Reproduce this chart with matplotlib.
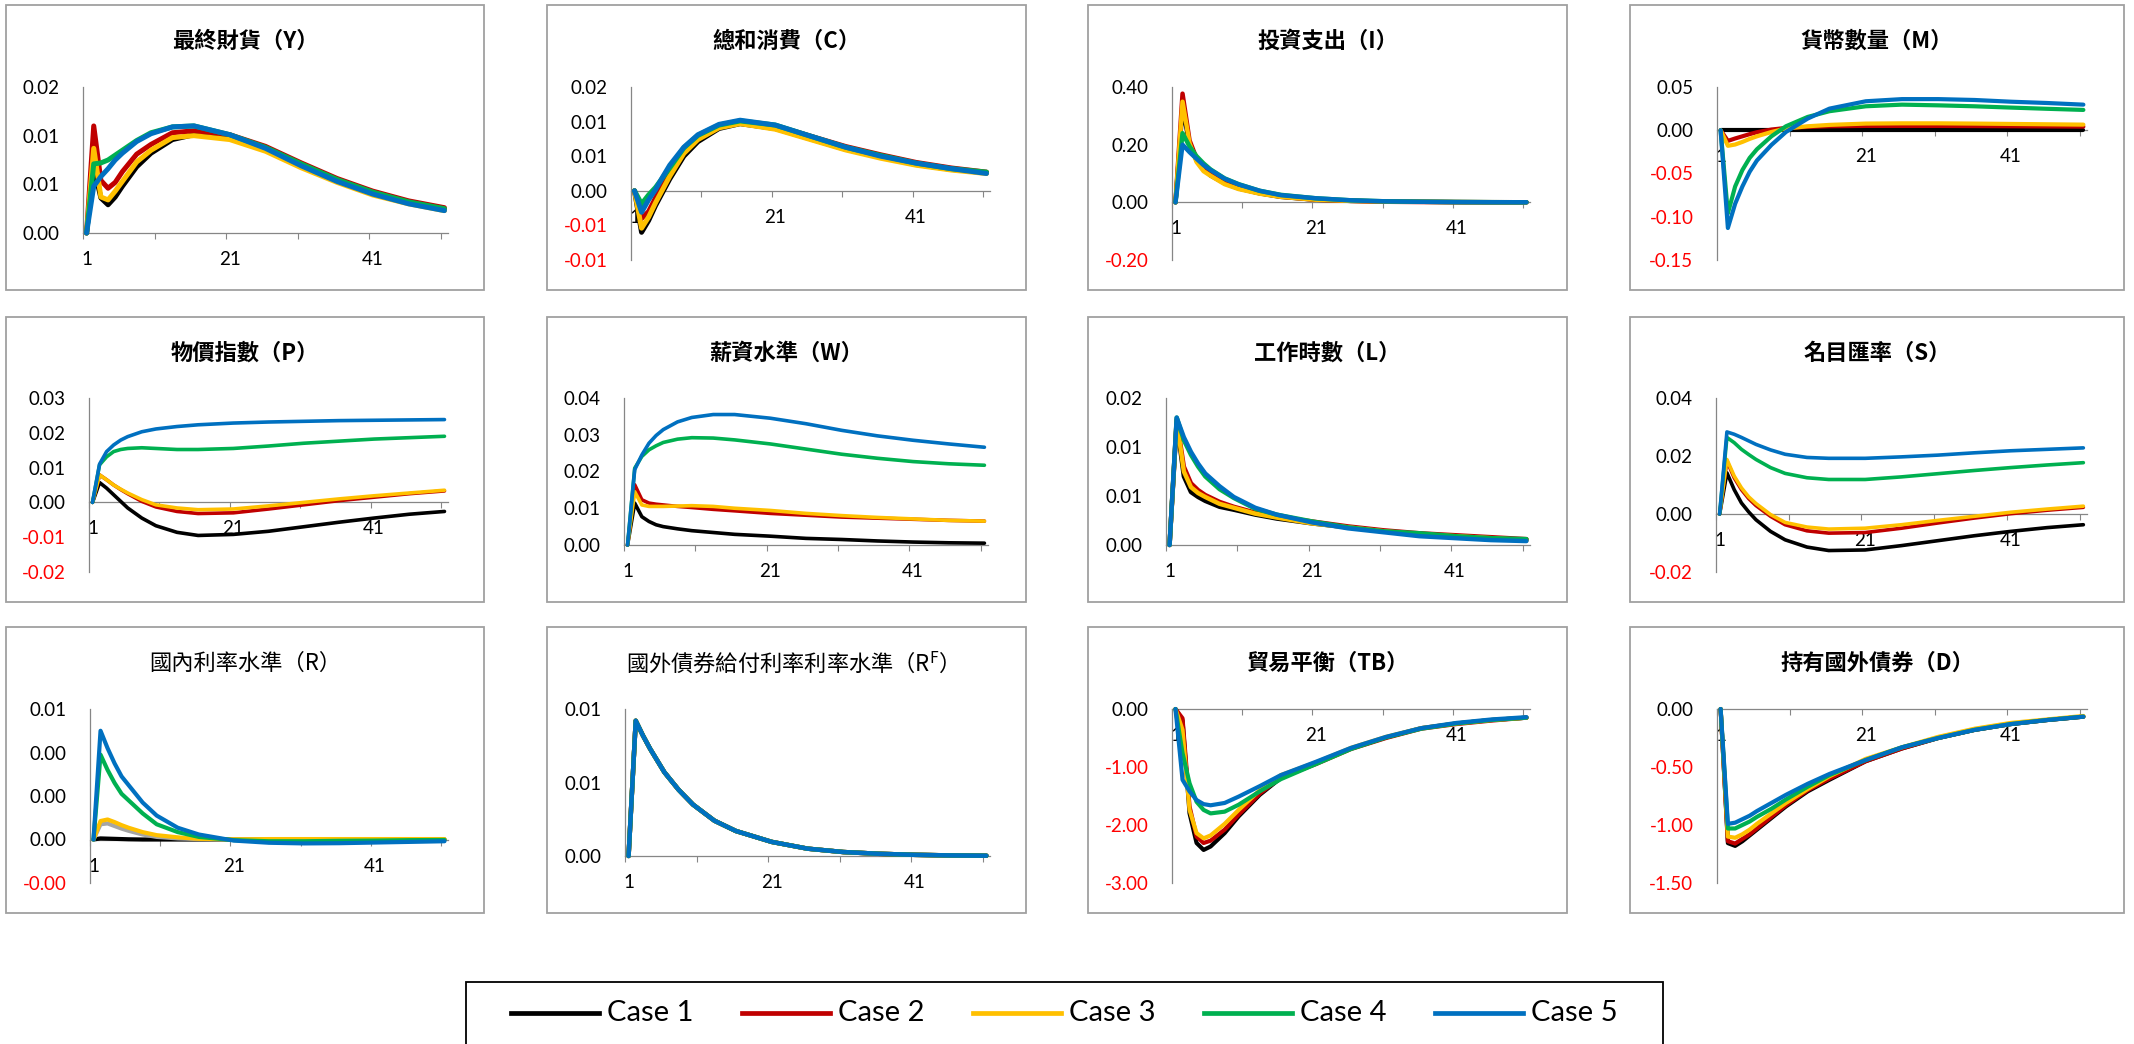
import numpy as np
import matplotlib
matplotlib.use("Agg")
import matplotlib.pyplot as plt
from matplotlib.patches import Rectangle
from matplotlib.lines import Line2D
from decimal import Decimal, ROUND_HALF_UP

plt.rcParams['font.family'] = ['Lato', 'Noto Sans CJK TC', 'DejaVu Sans']
plt.rcParams['mathtext.fontset'] = 'custom'
plt.rcParams['mathtext.rm'] = 'Noto Sans CJK TC'
plt.rcParams['mathtext.bf'] = 'Noto Sans CJK TC:bold'

W, H = 2134, 1044
fig = plt.figure(figsize=(W / 100, H / 100), dpi=100)

# impulse responses, 51 periods, read at these periods
periods = [1, 2, 3, 4, 5, 6, 8, 10, 13, 16, 21, 26, 31, 36, 41, 46, 51]
cases = ['Case 1', 'Case 2', 'Case 3', 'Case 4', 'Case 5']
case_colors = ['#000000', '#C00000', '#FFC000', '#00B050', '#0070C0']

# 最終財貨 Y
resp_Y = [
    [0, 0.0068, 0.0036, 0.0029, 0.0037, 0.0048, 0.0068, 0.0082, 0.0096, 0.0101, 0.0098, 0.0086, 0.0069, 0.0053, 0.0040, 0.0031, 0.0024],
    [0, 0.0110, 0.0054, 0.0046, 0.0052, 0.0063, 0.0081, 0.0091, 0.0103, 0.0105, 0.0101, 0.0089, 0.0072, 0.0056, 0.0043, 0.0033, 0.0026],
    [0, 0.0087, 0.0037, 0.0034, 0.0043, 0.0053, 0.0073, 0.0085, 0.0098, 0.0100, 0.0096, 0.0084, 0.0067, 0.0052, 0.0039, 0.0030, 0.0023],
    [0, 0.0071, 0.0072, 0.0075, 0.0080, 0.0085, 0.0095, 0.0103, 0.0109, 0.0110, 0.0101, 0.0088, 0.0071, 0.0055, 0.0042, 0.0032, 0.0025],
    [0, 0.0048, 0.0058, 0.0066, 0.0075, 0.0082, 0.0094, 0.0102, 0.0109, 0.0110, 0.0101, 0.0087, 0.0069, 0.0053, 0.0040, 0.0030, 0.0023],
]
# 總和消費 C
resp_C = [
    [0, -0.0060, -0.0043, -0.0021, -0.0002, 0.0017, 0.0050, 0.0071, 0.0090, 0.0097, 0.0090, 0.0075, 0.0060, 0.0049, 0.0038, 0.0031, 0.0026],
    [0, -0.0040, -0.0030, -0.0010, 0.0008, 0.0026, 0.0057, 0.0076, 0.0094, 0.0099, 0.0094, 0.0079, 0.0064, 0.0052, 0.0041, 0.0033, 0.0027],
    [0, -0.0054, -0.0038, -0.0017, 0.0002, 0.0021, 0.0054, 0.0074, 0.0091, 0.0097, 0.0089, 0.0074, 0.0059, 0.0047, 0.0037, 0.0030, 0.0025],
    [0, -0.0019, -0.0006, 0.0005, 0.0019, 0.0033, 0.0062, 0.0080, 0.0095, 0.0101, 0.0095, 0.0079, 0.0063, 0.0051, 0.0040, 0.0032, 0.0027],
    [0, -0.0031, -0.0013, 0.0002, 0.0020, 0.0037, 0.0063, 0.0081, 0.0096, 0.0102, 0.0095, 0.0079, 0.0063, 0.0050, 0.0040, 0.0032, 0.0025],
]
# 投資支出 I
resp_I = [
    [0, 0.330, 0.200, 0.145, 0.115, 0.093, 0.066, 0.048, 0.031, 0.019, 0.009, 0.005, 0.003, 0.002, 0.001, 0.0005, 0.0003],
    [0, 0.377, 0.215, 0.152, 0.120, 0.097, 0.069, 0.050, 0.032, 0.020, 0.009, 0.005, 0.002, 0.001, 0.0005, 0.0003, 0.0002],
    [0, 0.349, 0.205, 0.140, 0.108, 0.092, 0.063, 0.046, 0.030, 0.019, 0.009, 0.005, 0.003, 0.002, 0.001, 0.0005, 0.0003],
    [0, 0.240, 0.194, 0.160, 0.135, 0.114, 0.083, 0.063, 0.040, 0.026, 0.014, 0.007, 0.0035, 0.002, 0.001, 0.0005, 0.0003],
    [0, 0.200, 0.174, 0.151, 0.129, 0.112, 0.082, 0.062, 0.040, 0.025, 0.014, 0.007, 0.0034, 0.002, 0.001, 0.0005, 0.0003],
]
# 貨幣數量 M
resp_M = [
    [0, 0, 0, 0, 0, 0, 0, 0, 0, 0, 0, 0, 0, 0, 0, 0, 0],
    [0, -0.0123, -0.0095, -0.0070, -0.0045, -0.0023, 0.0008, 0.0027, 0.0038, 0.0046, 0.0050, 0.0050, 0.0050, 0.0048, 0.0046, 0.0044, 0.0042],
    [0, -0.0180, -0.0165, -0.0135, -0.0100, -0.0070, -0.0020, 0.0020, 0.0046, 0.0062, 0.0077, 0.0080, 0.0080, 0.0077, 0.0073, 0.0069, 0.0065],
    [0, -0.096, -0.065, -0.046, -0.032, -0.022, -0.007, 0.0046, 0.0154, 0.022, 0.0277, 0.0296, 0.0288, 0.0277, 0.0262, 0.0248, 0.0235],
    [0, -0.113, -0.085, -0.065, -0.048, -0.035, -0.017, -0.002, 0.0135, 0.025, 0.0335, 0.036, 0.036, 0.035, 0.033, 0.0315, 0.0296],
]
# 物價指數 P
resp_P = [
    [0, 0.0057, 0.0041, 0.0022, 0.0003, -0.0016, -0.0045, -0.0067, -0.0086, -0.0095, -0.0092, -0.0083, -0.0070, -0.0057, -0.0045, -0.0034, -0.0026],
    [0, 0.0079, 0.0065, 0.0050, 0.0037, 0.0025, 0.0003, -0.0013, -0.0026, -0.0032, -0.0030, -0.0019, -0.0007, 0.0005, 0.0015, 0.0025, 0.0033],
    [0, 0.0079, 0.0065, 0.0050, 0.0038, 0.0027, 0.0008, -0.0007, -0.0016, -0.0021, -0.0019, -0.0010, 0.0000, 0.0010, 0.0019, 0.0027, 0.0035],
    [0, 0.0108, 0.0131, 0.0146, 0.0152, 0.0155, 0.0157, 0.0155, 0.0152, 0.0152, 0.0155, 0.0162, 0.0170, 0.0176, 0.0182, 0.0186, 0.0190],
    [0, 0.0110, 0.0146, 0.0165, 0.0179, 0.0189, 0.0203, 0.0211, 0.0218, 0.0223, 0.0228, 0.0231, 0.0233, 0.0235, 0.0236, 0.0237, 0.0238],
]
# 薪資水準 W
resp_W = [
    [0, 0.0114, 0.0077, 0.0064, 0.0055, 0.0050, 0.0044, 0.0039, 0.0034, 0.0029, 0.0024, 0.0018, 0.0015, 0.0011, 0.0008, 0.0006, 0.0005],
    [0, 0.0164, 0.0123, 0.0114, 0.0111, 0.0109, 0.0105, 0.0102, 0.0097, 0.0093, 0.0086, 0.0081, 0.0076, 0.0073, 0.0070, 0.0067, 0.0065],
    [0, 0.0145, 0.0109, 0.0105, 0.0105, 0.0105, 0.0106, 0.0107, 0.0105, 0.0100, 0.0094, 0.0086, 0.0080, 0.0075, 0.0071, 0.0067, 0.0065],
    [0, 0.0209, 0.0241, 0.0259, 0.0270, 0.0279, 0.0288, 0.0292, 0.0291, 0.0286, 0.0275, 0.0261, 0.0247, 0.0236, 0.0227, 0.0221, 0.0217],
    [0, 0.0205, 0.0245, 0.0277, 0.0298, 0.0314, 0.0335, 0.0347, 0.0355, 0.0355, 0.0345, 0.0330, 0.0312, 0.0297, 0.0285, 0.0275, 0.0266],
]
# 工作時數 L
resp_L = [
    [0, 0.0125, 0.0070, 0.0054, 0.0049, 0.0045, 0.0039, 0.0036, 0.0031, 0.0027, 0.0022, 0.0018, 0.0014, 0.0010, 0.0008, 0.0006, 0.0005],
    [0, 0.0128, 0.0080, 0.0063, 0.0056, 0.0051, 0.0044, 0.0039, 0.0033, 0.0029, 0.0024, 0.0019, 0.0015, 0.0012, 0.0010, 0.0008, 0.0006],
    [0, 0.0127, 0.0075, 0.0059, 0.0053, 0.0049, 0.0042, 0.0038, 0.0032, 0.0028, 0.0022, 0.0018, 0.0014, 0.0011, 0.0009, 0.0007, 0.0005],
    [0, 0.0130, 0.0107, 0.0092, 0.0080, 0.0070, 0.0057, 0.0048, 0.0037, 0.0031, 0.0024, 0.0018, 0.0014, 0.0012, 0.0009, 0.0007, 0.0006],
    [0, 0.0130, 0.0110, 0.0095, 0.0083, 0.0073, 0.0060, 0.0049, 0.0038, 0.0031, 0.0023, 0.0017, 0.0013, 0.0009, 0.0007, 0.0005, 0.0004],
]
# 名目匯率 S
resp_S = [
    [0, 0.0142, 0.0084, 0.0038, 0.0007, -0.0020, -0.0060, -0.0089, -0.0114, -0.0126, -0.0124, -0.0109, -0.0092, -0.0075, -0.0060, -0.0047, -0.0037],
    [0, 0.0183, 0.0125, 0.0084, 0.0053, 0.0029, -0.0008, -0.0037, -0.0058, -0.0066, -0.0064, -0.0049, -0.0031, -0.0014, 0.0001, 0.0013, 0.0023],
    [0, 0.0188, 0.0131, 0.0090, 0.0059, 0.0036, -0.0002, -0.0029, -0.0045, -0.0052, -0.0049, -0.0037, -0.0022, -0.0008, 0.0006, 0.0017, 0.0027],
    [0, 0.0264, 0.0246, 0.0223, 0.0205, 0.0188, 0.0160, 0.0140, 0.0125, 0.0119, 0.0119, 0.0128, 0.0139, 0.0150, 0.0160, 0.0169, 0.0177],
    [0, 0.0283, 0.0275, 0.0264, 0.0252, 0.0240, 0.0221, 0.0206, 0.0195, 0.0192, 0.0192, 0.0197, 0.0203, 0.0211, 0.0218, 0.0223, 0.0228],
]
# 國內利率水準 R
resp_R = [
    [0, 0.00005, 0.00004, 0.00003, 0.00002, 0.00001, 0, 0, 0, 0, 0, 0, 0, 0, 0, 0, 0],
    [0, 0.00070, 0.00074, 0.00062, 0.00050, 0.00040, 0.00023, 0.00012, 0.00005, 0.00002, 0, 0, 0, 0, 0, 0, 0],
    [0, 0.00085, 0.00092, 0.00080, 0.00066, 0.00054, 0.00034, 0.00020, 0.00010, 0.00003, 0.00001, 0.00002, 0.00002, 0.00002, 0.00002, 0.00002, 0.00002],
    [0, 0.0039, 0.0032, 0.0026, 0.0021, 0.0018, 0.0012, 0.0007, 0.00034, 0.00012, -0.00003, -0.00008, -0.00008, -0.00006, -0.00005, -0.00003, -0.00002],
    [0, 0.0050, 0.0042, 0.0035, 0.0029, 0.0025, 0.0017, 0.0011, 0.00054, 0.00023, -0.00005, -0.00015, -0.00018, -0.00017, -0.00014, -0.00011, -0.00008],
]
# 國外債券給付利率 RF (identical across cases)
rf_path = [0, 0.0092, 0.0082, 0.0073, 0.0065, 0.0057, 0.0045, 0.0035, 0.0024, 0.0017, 0.00096, 0.0005, 0.00027, 0.00015, 0.00008, 0.00004, 0.00002]
resp_RF = [rf_path] * 5
# 貿易平衡 TB
resp_TB = [
    [0, -0.20, -1.80, -2.31, -2.43, -2.37, -2.14, -1.85, -1.48, -1.19, -0.94, -0.68, -0.49, -0.33, -0.25, -0.19, -0.15],
    [0, -0.16, -1.68, -2.20, -2.31, -2.27, -2.08, -1.82, -1.46, -1.18, -0.95, -0.69, -0.50, -0.34, -0.26, -0.20, -0.15],
    [0, -0.36, -1.74, -2.14, -2.23, -2.18, -1.98, -1.74, -1.40, -1.14, -0.92, -0.67, -0.48, -0.33, -0.25, -0.19, -0.15],
    [0, -0.76, -1.28, -1.60, -1.74, -1.80, -1.77, -1.65, -1.42, -1.21, -0.95, -0.69, -0.49, -0.34, -0.25, -0.19, -0.15],
    [0, -1.22, -1.42, -1.57, -1.64, -1.66, -1.62, -1.51, -1.33, -1.14, -0.91, -0.67, -0.48, -0.33, -0.24, -0.18, -0.14],
]
# 持有國外債券 D
resp_D = [
    [0, -1.156, -1.18, -1.14, -1.09, -1.04, -0.94, -0.84, -0.71, -0.61, -0.45, -0.34, -0.25, -0.18, -0.13, -0.095, -0.066],
    [0, -1.14, -1.16, -1.12, -1.08, -1.03, -0.93, -0.83, -0.70, -0.60, -0.45, -0.34, -0.25, -0.18, -0.13, -0.095, -0.066],
    [0, -1.10, -1.11, -1.08, -1.04, -0.99, -0.90, -0.81, -0.69, -0.58, -0.43, -0.33, -0.24, -0.17, -0.12, -0.09, -0.06],
    [0, -1.03, -1.03, -1.00, -0.97, -0.93, -0.86, -0.78, -0.67, -0.57, -0.44, -0.33, -0.25, -0.18, -0.13, -0.095, -0.066],
    [0, -0.99, -0.98, -0.95, -0.92, -0.88, -0.81, -0.74, -0.645, -0.56, -0.44, -0.33, -0.25, -0.18, -0.13, -0.095, -0.066],
]

titles = ['最終財貨（Y）', '總和消費（C）', '投資支出（I）', '貨幣數量（M）',
          '物價指數（P）', '薪資水準（W）', '工作時數（L）', '名目匯率（S）',
          '國內利率水準（R）', '國外債券給付利率利率水準（R$^{\\mathrm{F}}$）',
          '貿易平衡（TB）', '持有國外債券（D）']
responses = [resp_Y, resp_C, resp_I, resp_M, resp_P, resp_W, resp_L, resp_S,
             resp_R, resp_RF, resp_TB, resp_D]
y_ranges = [(0, 0.015), (-0.01, 0.015), (-0.2, 0.4), (-0.15, 0.05),
            (-0.02, 0.03), (0, 0.04), (0, 0.015), (-0.02, 0.04),
            (-0.002, 0.006), (0, 0.01), (-3, 0), (-1.5, 0)]
y_steps = [0.005, 0.005, 0.2, 0.05, 0.01, 0.01, 0.005, 0.02, 0.002, 0.005, 1, 0.5]
title_weights = ['bold'] * 8 + ['normal', 'normal', 'bold', 'bold']

# pixel layout: chart frames and plot areas (left, right, top, bottom)
frame_x = [(6, 484), (547, 1026), (1088, 1567), (1630, 2124)]
frame_y = [(5, 290), (317, 602), (627, 913)]
plot_boxes = [
    (83, 448, 87, 233), (631, 990, 87, 260), (1172, 1530, 87, 260), (1717, 2087, 87, 260),
    (89, 448, 398, 572), (624, 988, 398, 545), (1166, 1530, 398, 545), (1716, 2087, 398, 572),
    (90, 448, 709, 883), (625, 990, 709, 856), (1172, 1530, 709, 883), (1717, 2087, 709, 883),
]
line_widths = [3.6, 3.6, 3.2, 3.0, 2.6, 2.6, 3.2, 2.6, 3.0, 3.2, 3.0, 3.0]
axis_gray = '#868686'


def excel_label(v):
    v = float(round(float(v), 10)) + 0.0
    d = Decimal(repr(v)).quantize(Decimal('0.01'), rounding=ROUND_HALF_UP)
    return str(d)


for i in range(12):
    col, row = i % 4, i // 4
    fx0, fx1 = frame_x[col]
    fy0, fy1 = frame_y[row]
    fig.patches.append(Rectangle((fx0 / W, 1 - fy1 / H), (fx1 - fx0) / W, (fy1 - fy0) / H,
                                 transform=fig.transFigure, fill=False,
                                 edgecolor='#A0A0A0', linewidth=1.3))
    fig.text((fx0 + fx1) / 2 / W, 1 - (fy0 + 36) / H, titles[i],
             family=['Noto Sans CJK TC', 'DejaVu Sans'], weight=title_weights[i],
             fontsize=16, ha='center', va='center')

    l, r, t, b = plot_boxes[i]
    ax = fig.add_axes([l / W, 1 - b / H, (r - l) / W, (b - t) / H])
    ax.patch.set_alpha(0)

    colors = list(case_colors)
    if i == 8:
        colors[1] = '#A5A5A5'
    for k in range(5):
        ax.plot(periods, responses[i][k], color=colors[k], lw=line_widths[i],
                solid_capstyle='round', solid_joinstyle='round', clip_on=False, zorder=3 + k)

    lo, hi = y_ranges[i]
    ax.set_xlim(0.5, 51.5)
    ax.set_ylim(lo, hi)

    n = int(round((hi - lo) / y_steps[i])) + 1
    yt = np.linspace(lo, hi, n)
    ax.set_yticks(yt, [excel_label(v) for v in yt])
    for lab in ax.get_yticklabels():
        lab.set_color('#FF0000' if lab.get_text().startswith('-') else 'black')
    ax.tick_params(axis='y', length=0, pad=17, labelsize=13.5)

    ax.set_xticks(np.arange(0.5, 51, 10), [''] * 6)
    ax.set_xticks([1, 21, 41], ['1', '21', '41'], minor=True)
    ax.tick_params(axis='x', which='major', length=4, width=0.8, color=axis_gray, direction='out')
    ax.tick_params(axis='x', which='minor', length=0, pad=13, labelsize=13.5)

    for side in ('top', 'right'):
        ax.spines[side].set_visible(False)
    ax.spines['bottom'].set_position(('data', 0))
    for side in ('left', 'bottom'):
        ax.spines[side].set_color(axis_gray)
        ax.spines[side].set_linewidth(0.9)
        ax.spines[side].set_zorder(1)
    ax.set_axisbelow(True)

# legend box along the bottom
fig.patches.append(Rectangle((466 / W, -0.02), (1663 - 466) / W, 1 - 982 / H + 0.02,
                             transform=fig.transFigure, fill=False,
                             edgecolor='black', linewidth=1.3))
leg_y = 1 - 1013 / H
for k in range(5):
    x0 = 511 + k * 231
    fig.lines.append(Line2D([x0 / W, (x0 + 88) / W], [leg_y, leg_y],
                            transform=fig.transFigure, color=case_colors[k], lw=3.4))
    fig.text((x0 + 96) / W, leg_y, cases[k], fontsize=21,
             ha='left', va='center')

fig.savefig('out.png', dpi=100)
